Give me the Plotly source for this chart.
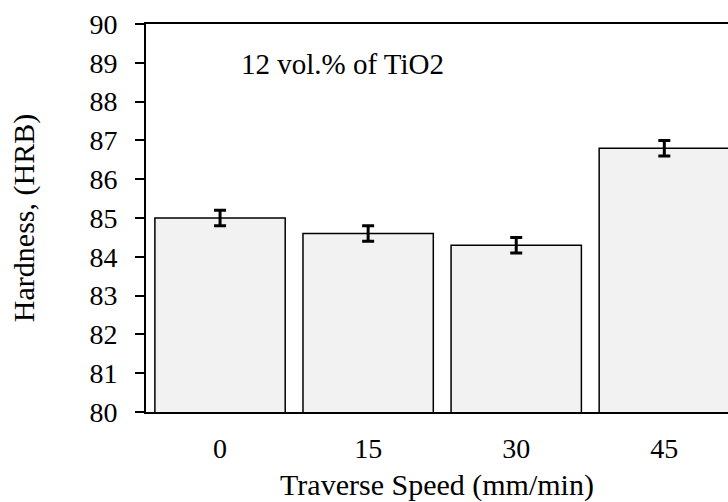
import plotly.graph_objects as go

speeds = ["0", "15", "30", "45"]
hardness = [85.0, 84.6, 84.3, 86.8]
errors = [0.2, 0.2, 0.2, 0.2]
y_ticks = [80, 81, 82, 83, 84, 85, 86, 87, 88, 89, 90]

FONT = "Liberation Serif"
TICK_FS = 28
TEXT_FS = 30

fig = go.Figure()
fig.add_trace(go.Bar(
    x=speeds, y=hardness,
    marker=dict(color="#f2f2f2", line=dict(color="black", width=1.5)),
    error_y=dict(type="data", array=errors, visible=True,
                 color="black", thickness=3, width=6),
))

fig.update_layout(
    width=728, height=502,
    margin=dict(l=146, r=0, t=24, b=90),
    paper_bgcolor="white", plot_bgcolor="white",
    bargap=0.12,
    showlegend=False,
    font=dict(family=FONT, size=TICK_FS, color="black"),
    annotations=[dict(text="12 vol.% of TiO2", xref="paper", yref="paper",
                      x=0.16, y=0.897, xanchor="left", yanchor="middle",
                      showarrow=False, font=dict(family=FONT, size=TEXT_FS - 1, color="black"))],
)
fig.update_xaxes(
    type="category", range=[-0.5, 3.43],
    showline=True, linecolor="black", linewidth=2, mirror=True,
    ticks="", showgrid=False, zeroline=False,
    ticklabelstandoff=10,
    tickfont=dict(family=FONT, size=TICK_FS, color="black"),
    title=dict(text="Traverse Speed (mm/min)", standoff=14,
               font=dict(family=FONT, size=TEXT_FS, color="black")),
)
fig.update_yaxes(
    range=[80, 90], tickvals=y_ticks,
    showline=True, linecolor="black", linewidth=2,
    ticks="outside", ticklen=9, tickwidth=2, tickcolor="black",
    showgrid=False, zeroline=False,
    ticklabelstandoff=12,
    tickfont=dict(family=FONT, size=TICK_FS, color="black"),
    title=dict(text="Hardness, (HRB)", standoff=46,
               font=dict(family=FONT, size=TEXT_FS, color="black")),
)

fig.write_html("out.html",
               config={"displayModeBar": False},
               post_script="document.body.style.margin='0';document.body.style.overflow='hidden';")
